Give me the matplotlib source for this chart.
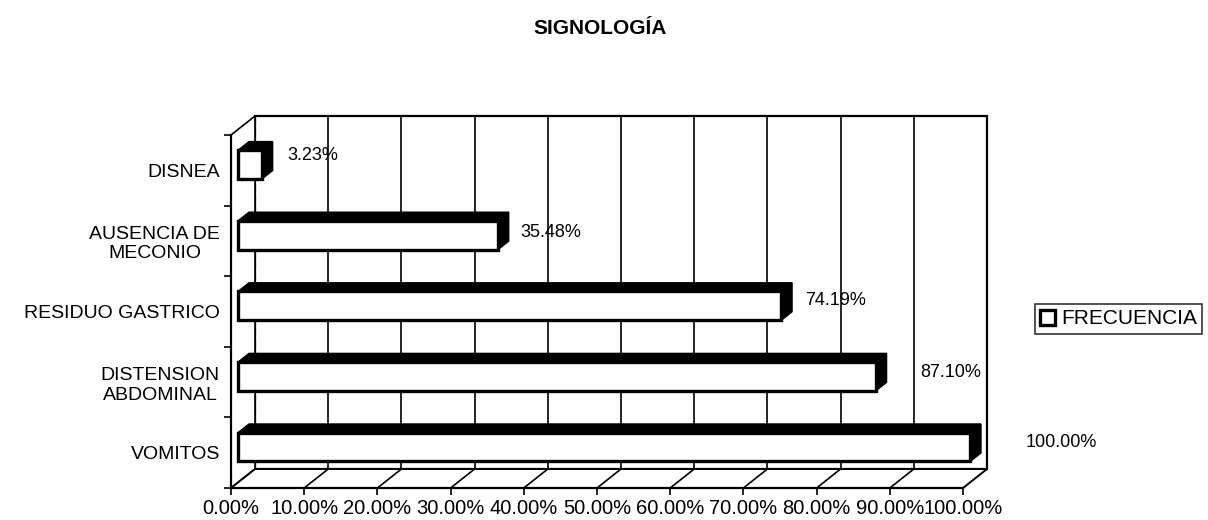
import matplotlib
matplotlib.use("Agg")
import matplotlib.pyplot as plt
from matplotlib.patches import Polygon, Patch

plt.rcParams['font.family'] = ['Liberation Sans', 'DejaVu Sans']

# data (bottom to top)
categories = ['VOMITOS', 'DISTENSION\nABDOMINAL', 'RESIDUO GASTRICO',
              'AUSENCIA DE\nMECONIO', 'DISNEA']
values = [100.00, 87.10, 74.19, 35.48, 3.23]
value_labels = ['100.00%', '87.10%', '74.19%', '35.48%', '3.23%']
xticks = [0, 10, 20, 30, 40, 50, 60, 70, 80, 90, 100]
xtick_labels = ['%.2f%%' % t for t in xticks]

# label nudges in pixels (scanned excel 3d chart)
label_dx = [55, 44, 24, 22, 26]
label_dy = [10, 10, 11, 8, 15]

fig = plt.figure(figsize=(12.08, 5.2), dpi=100)
ax = fig.add_axes([231 / 1208, 32 / 520, 732 / 1208, 353 / 520])
ax.set_xlim(0, 100)
ax.set_ylim(-0.5, len(categories) - 0.5)

# depth of the 3d box in data units
DX = 24 / 7.32
DY = 19 / 70.6
y0, y1 = -0.5, len(categories) - 0.5

# back wall + gridlines
ax.add_patch(Polygon([(DX, y0 + DY), (100 + DX, y0 + DY), (100 + DX, y1 + DY), (DX, y1 + DY)],
                     closed=True, facecolor='white', edgecolor='black', lw=1.6, zorder=1, clip_on=False))
for t in xticks[1:-1]:
    ax.plot([t + DX, t + DX], [y0 + DY, y1 + DY], color='black', lw=1.2, zorder=1, clip_on=False)
# left wall
ax.add_patch(Polygon([(0, y0), (0, y1), (DX, y1 + DY), (DX, y0 + DY)], closed=True,
                     facecolor='white', edgecolor='black', lw=1.2, zorder=1.5, clip_on=False))
ax.plot([DX, DX], [y0 + DY, y1 + DY], color='black', lw=0.8, ls=(0, (6, 4)), zorder=1.6, clip_on=False)
# floor
ax.add_patch(Polygon([(0, y0), (100, y0), (100 + DX, y0 + DY), (DX, y0 + DY)], closed=True,
                     facecolor='white', edgecolor='black', lw=1.4, zorder=1.5, clip_on=False))
for t in xticks[1:-1]:
    ax.plot([t, t + DX], [y0, y0 + DY], color='black', lw=1.2, zorder=1.6, clip_on=False)

# bars: front face at f0 of depth, back at f1
f0, f1 = 0.3, 0.75
h = 0.41
ypos = list(range(len(categories)))
bars = ax.barh([y + f0 * DY for y in ypos], values, height=h, left=f0 * DX,
               color='white', edgecolor='black', lw=2.4, zorder=4)
for b in bars:
    b.set_clip_on(False)
for y, v in zip(ypos, values):
    top = y + h / 2
    bot = y - h / 2
    ax.add_patch(Polygon([(f0 * DX, top + f0 * DY), (v + f0 * DX, top + f0 * DY),
                          (v + f1 * DX, top + f1 * DY), (f1 * DX, top + f1 * DY)],
                         closed=True, facecolor='black', edgecolor='black', lw=1, zorder=3, clip_on=False))
    ax.add_patch(Polygon([(v + f0 * DX, bot + f0 * DY), (v + f0 * DX, top + f0 * DY),
                          (v + f1 * DX, top + f1 * DY), (v + f1 * DX, bot + f1 * DY)],
                         closed=True, facecolor='black', edgecolor='black', lw=1, zorder=3, clip_on=False))

for y, v, lab, dx, dy in zip(ypos, values, value_labels, label_dx, label_dy):
    ax.annotate(lab, xy=(v + f0 * DX, y), xytext=(dx, dy), textcoords='offset pixels',
                ha='left', va='center', fontsize=13, zorder=6, annotation_clip=False)

# axes
for s in ['top', 'right']:
    ax.spines[s].set_visible(False)
ax.spines['left'].set_linewidth(1.6)
ax.spines['bottom'].set_linewidth(1.6)
ax.spines['left'].set_zorder(5)
ax.spines['bottom'].set_zorder(5)
ax.patch.set_visible(False)

ax.set_xticks(xticks)
ax.set_xticklabels(xtick_labels, fontsize=14.5)
ax.tick_params(axis='x', direction='out', length=5, width=1.2, pad=3)

ax.set_yticks([y0 + k for k in range(len(categories) + 1)])
ax.set_yticklabels([])
ax.tick_params(axis='y', which='major', direction='out', length=5, width=1.2)
ax.set_yticks(ypos, minor=True)
ax.set_yticklabels(categories, minor=True, fontsize=14, multialignment='center')
ax.tick_params(axis='y', which='minor', length=0, pad=8)

fig.text(600 / 1208, 1 - 28 / 520, 'SIGNOLOGÍA', ha='center', va='center',
         fontsize=15, fontweight='bold')

leg = fig.legend(handles=[Patch(facecolor='white', edgecolor='black', lw=2.4)],
                 labels=['FRECUENCIA'], loc='center left',
                 bbox_to_anchor=(1035 / 1208, 1 - 319 / 520), frameon=True,
                 fancybox=False, edgecolor='black', fontsize=15,
                 handlelength=0.7, handleheight=0.7, handletextpad=0.3,
                 borderpad=0.25, borderaxespad=0)
leg.get_frame().set_linewidth(1.2)

fig.savefig('out.png', dpi=100)
